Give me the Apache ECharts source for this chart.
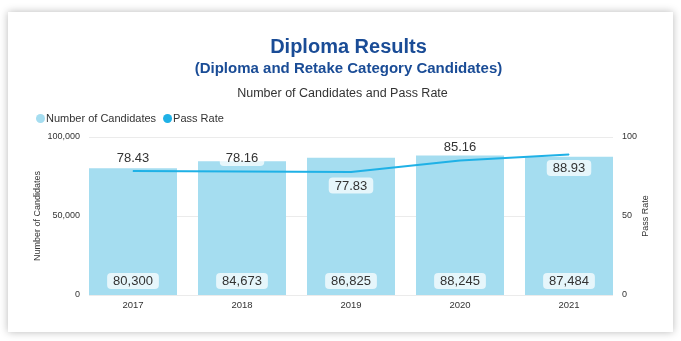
<!DOCTYPE html>
<html>
<head>
<meta charset="utf-8">
<script src="https://cdn.jsdelivr.net/npm/echarts@6/dist/echarts.min.js"></script>
<style>
  html, body { margin: 0; padding: 0; background: #ffffff; }
  #card { position: absolute; left: 8px; top: 12px; width: 665px; height: 320px;
          background: #fff; box-shadow: 0 0 8px rgba(0,0,0,0.28); }
  #chart { position: absolute; left: 0; top: 0; width: 681px; height: 341px; }
</style>
</head>
<body>
<div id="card"></div>
<div id="chart"></div>
<script>
// Exam years and results
const years = ['2017', '2018', '2019', '2020', '2021'];
const candidates = [80300, 84673, 86825, 88245, 87484];
const passRate = [78.43, 78.16, 77.83, 85.16, 88.93];
// where each pass-rate label sits relative to the line
const rateLabelSide = ['top', 'top', 'bottom', 'top', 'bottom'];

const FONT = 'Liberation Sans, Arial, sans-serif';
const chart = echarts.init(document.getElementById('chart'));

chart.setOption({
  animation: false,
  textStyle: { fontFamily: FONT },
  graphic: [
    { type: 'text', x: 348.5, y: 47, silent: true,
      style: { text: 'Diploma Results', align: 'center', verticalAlign: 'middle',
        font: 'bold 20px ' + FONT, fill: '#1a4c96' } },
    { type: 'text', x: 348.5, y: 69, silent: true,
      style: { text: '(Diploma and Retake Category Candidates)', align: 'center', verticalAlign: 'middle',
        font: 'bold 15px ' + FONT, fill: '#1a4c96' } },
    { type: 'text', x: 342.5, y: 94, silent: true,
      style: { text: 'Number of Candidates and Pass Rate', align: 'center', verticalAlign: 'middle',
        font: '12.5px ' + FONT, fill: '#333' } }
  ],
  legend: {
    left: 31, top: 108, icon: 'circle', itemWidth: 9, itemHeight: 9, itemGap: 7,
    textStyle: { fontSize: 11, color: '#333', padding: [0, 0, 0, -4] },
    data: ['Number of Candidates', 'Pass Rate']
  },
  grid: [
    { left: 78.5, right: 57.5, top: 137, bottom: 46 },
    { left: 89, right: 68, top: 137, bottom: 46 }
  ],
  xAxis: [
    { type: 'category', gridIndex: 0, data: years,
      axisLine: { show: false }, axisTick: { show: false },
      axisLabel: { fontSize: 9.5, color: '#333', margin: 5 } },
    { type: 'value', gridIndex: 1, min: 0, max: 1, show: false }
  ],
  yAxis: [
    { type: 'value', gridIndex: 1, position: 'left', min: 0, max: 100000, interval: 50000,
      name: 'Number of Candidates', nameLocation: 'middle', nameRotate: 90, nameGap: 47,
      nameMoveOverlap: false,
      nameTextStyle: { fontSize: 9, color: '#333' },
      axisLabel: { fontSize: 9, color: '#333', margin: 9,
        formatter: v => v.toLocaleString('en-US') },
      axisLine: { show: false }, axisTick: { show: false },
      splitLine: { lineStyle: { color: '#ebebeb', width: 1 } } },
    { type: 'value', gridIndex: 1, position: 'right', min: 0, max: 100, interval: 50,
      name: 'Pass Rate', nameLocation: 'middle', nameRotate: 90, nameGap: 28,
      nameMoveOverlap: false,
      nameTextStyle: { fontSize: 9, color: '#333' },
      axisLabel: { fontSize: 9, color: '#333', margin: 9 },
      axisLine: { show: false }, axisTick: { show: false }, splitLine: { show: false } },
    { type: 'value', gridIndex: 0, min: 0, max: 100000, show: false },
    { type: 'value', gridIndex: 0, min: 0, max: 100, show: false }
  ],
  series: [
    { name: 'Number of Candidates', type: 'bar', xAxisIndex: 0, yAxisIndex: 2,
      data: candidates, barWidth: 88, itemStyle: { color: '#a5ddf0' },
      label: { show: true, position: 'insideBottom', distance: 6,
        formatter: p => p.value.toLocaleString('en-US'),
        fontSize: 13, color: '#333', backgroundColor: 'rgba(255,255,255,0.72)',
        borderRadius: 4, padding: [2, 6, 1, 6] } },
    { name: 'Pass Rate', type: 'line', xAxisIndex: 0, yAxisIndex: 3, z: 3,
      data: passRate.map((v, i) => ({
        value: v,
        label: { position: rateLabelSide[i] }
      })),
      showSymbol: true, symbol: 'circle', symbolSize: 1,
      itemStyle: { color: '#1fb1e6' },
      lineStyle: { color: '#1fb1e6', width: 2 },
      label: { show: true, distance: 5, fontSize: 13, color: '#333',
        formatter: p => p.value.toFixed(2),
        backgroundColor: 'rgba(255,255,255,0.72)', borderRadius: 4, padding: [2, 6, 1, 6] } }
  ]
});
</script>
</body>
</html>
